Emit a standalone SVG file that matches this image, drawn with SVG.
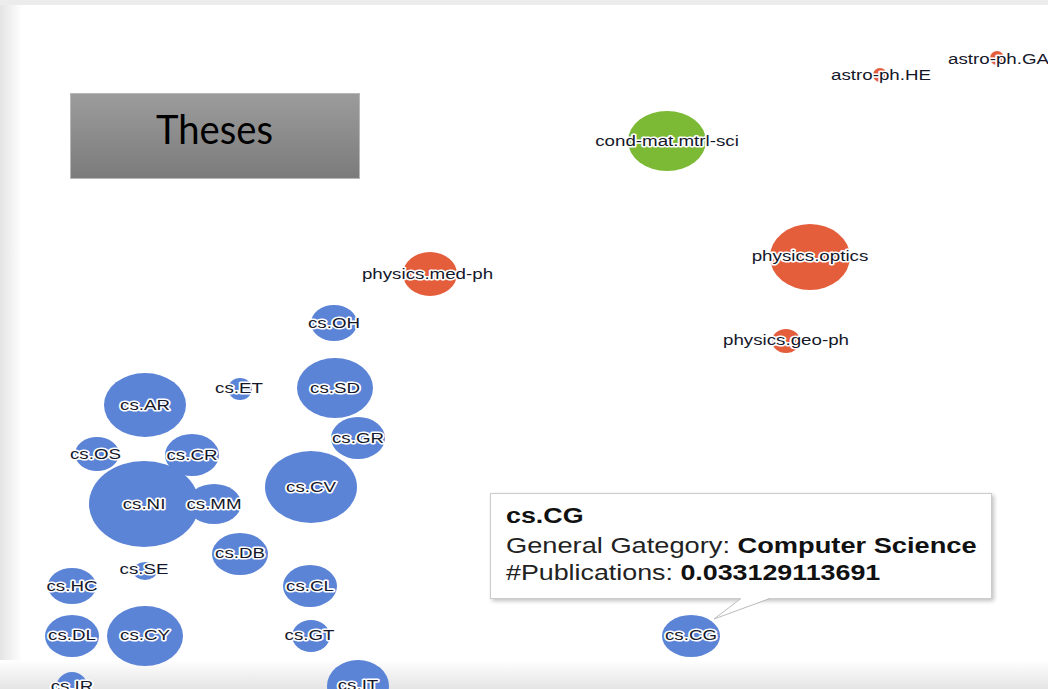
<svg xmlns="http://www.w3.org/2000/svg" width="1048" height="689" viewBox="0 0 1048 689">
  <defs>
    <linearGradient id="gLeft" x1="0" y1="0" x2="1" y2="0">
      <stop offset="0" stop-color="#e4e4e4"/>
      <stop offset="1" stop-color="#ffffff"/>
    </linearGradient>
    <linearGradient id="gBottom" x1="0" y1="0" x2="0" y2="1">
      <stop offset="0" stop-color="#ffffff"/>
      <stop offset="1" stop-color="#e4e4e4"/>
    </linearGradient>
    <linearGradient id="gTitle" x1="0" y1="0" x2="0" y2="1">
      <stop offset="0" stop-color="#9c9c9c"/>
      <stop offset="1" stop-color="#7b7b7b"/>
    </linearGradient>
    <filter id="shadow" x="-5%" y="-10%" width="115%" height="130%">
      <feGaussianBlur in="SourceAlpha" stdDeviation="2"/>
      <feOffset dx="2" dy="2"/>
      <feComponentTransfer><feFuncA type="linear" slope="0.25"/></feComponentTransfer>
      <feMerge><feMergeNode/><feMergeNode in="SourceGraphic"/></feMerge>
    </filter>
    <style>
      .cs { fill: #5b83d6; }
      .ph { fill: #e45e3c; }
      .cm { fill: #7cba36; }
      .lbl { font-family: "Liberation Sans", Arial, sans-serif; font-size: 15px; fill: #15182a;
             stroke: #ffffff; stroke-width: 3px; stroke-linejoin: round; paint-order: stroke; text-anchor: middle; }
      .tt { font-family: "Liberation Sans", Arial, sans-serif; font-size: 22px; fill: #222222; }
      .b { font-weight: bold; fill: #111111; }
    </style>
  </defs>

  <!-- page background and frame shading -->
  <rect x="0" y="0" width="1048" height="689" fill="#ffffff"/>
  <rect x="0" y="0" width="22" height="689" fill="url(#gLeft)"/>
  <rect x="0" y="0" width="1048" height="5" fill="#ececec"/>
  <rect x="0" y="660" width="1048" height="29" fill="url(#gBottom)"/>

  <!-- title box -->
  <g id="title">
    <rect x="70.5" y="93.5" width="289" height="85" fill="url(#gTitle)" stroke="#b8b8b8" stroke-width="1"/>
    <text x="156" y="144" font-family="Lato, 'Open Sans', sans-serif" font-size="40" fill="#000000" textLength="117" lengthAdjust="spacingAndGlyphs">Theses</text>
  </g>

  <g id="nodes">
    <g id="node-astro-ph-HE" transform="translate(880,75)">
      <ellipse class="ph" rx="7" ry="7"/>
      <text class="lbl" transform="scale(1.25,1)" x="0.8" y="5">astro-ph.HE</text>
    </g>
    <g id="node-astro-ph-GA" transform="translate(997,58)">
      <ellipse class="ph" rx="7" ry="7"/>
      <text class="lbl" transform="scale(1.25,1)" x="1.2" y="6">astro-ph.GA</text>
    </g>
    <g id="node-cond-mat-mtrl-sci" transform="translate(667,141)">
      <ellipse class="cm" rx="39" ry="30"/>
      <text class="lbl" transform="scale(1.25,1)" y="5">cond-mat.mtrl-sci</text>
    </g>
    <g id="node-physics-med-ph" transform="translate(430,274)">
      <ellipse class="ph" rx="27" ry="22"/>
      <text class="lbl" transform="scale(1.25,1)" x="-2" y="5">physics.med-ph</text>
    </g>
    <g id="node-physics-optics" transform="translate(810,257)">
      <ellipse class="ph" rx="40" ry="33"/>
      <text class="lbl" transform="scale(1.25,1)" y="4">physics.optics</text>
    </g>
    <g id="node-physics-geo-ph" transform="translate(786,341)">
      <ellipse class="ph" rx="14" ry="12"/>
      <text class="lbl" transform="scale(1.25,1)" y="4">physics.geo-ph</text>
    </g>

    <g id="node-cs-OH" transform="translate(334,323)">
      <ellipse class="cs" rx="23" ry="18"/>
      <text class="lbl" transform="scale(1.25,1)" y="5">cs.OH</text>
    </g>
    <g id="node-cs-SD" transform="translate(335,388)">
      <ellipse class="cs" rx="38" ry="30"/>
      <text class="lbl" transform="scale(1.25,1)" y="5">cs.SD</text>
    </g>
    <g id="node-cs-ET" transform="translate(240,389)">
      <ellipse class="cs" rx="12" ry="11"/>
      <text class="lbl" transform="scale(1.25,1)" x="-0.8" y="4">cs.ET</text>
    </g>
    <g id="node-cs-AR" transform="translate(145,405)">
      <ellipse class="cs" rx="41" ry="32"/>
      <text class="lbl" transform="scale(1.25,1)" y="5">cs.AR</text>
    </g>
    <g id="node-cs-GR" transform="translate(358,438)">
      <ellipse class="cs" rx="27" ry="21"/>
      <text class="lbl" transform="scale(1.25,1)" y="5">cs.GR</text>
    </g>
    <g id="node-cs-OS" transform="translate(97,454)">
      <ellipse class="cs" rx="22" ry="17"/>
      <text class="lbl" transform="scale(1.25,1)" x="-1.2" y="5">cs.OS</text>
    </g>
    <g id="node-cs-CR" transform="translate(192,455)">
      <ellipse class="cs" rx="27" ry="21"/>
      <text class="lbl" transform="scale(1.25,1)" y="5">cs.CR</text>
    </g>
    <g id="node-cs-CV" transform="translate(311,487)">
      <ellipse class="cs" rx="46" ry="36"/>
      <text class="lbl" transform="scale(1.25,1)" y="5">cs.CV</text>
    </g>
    <g id="node-cs-NI" transform="translate(144,504)">
      <ellipse class="cs" rx="55" ry="43"/>
      <text class="lbl" transform="scale(1.25,1)" y="5">cs.NI</text>
    </g>
    <g id="node-cs-MM" transform="translate(214,504)">
      <ellipse class="cs" rx="27" ry="20"/>
      <text class="lbl" transform="scale(1.25,1)" y="5">cs.MM</text>
    </g>
    <g id="node-cs-DB" transform="translate(240,554)">
      <ellipse class="cs" rx="28" ry="21"/>
      <text class="lbl" transform="scale(1.25,1)" y="4">cs.DB</text>
    </g>
    <g id="node-cs-SE" transform="translate(145,571)">
      <ellipse class="cs" rx="12" ry="9"/>
      <text class="lbl" transform="scale(1.25,1)" x="-0.8" y="3">cs.SE</text>
    </g>
    <g id="node-cs-HC" transform="translate(72,586)">
      <ellipse class="cs" rx="24" ry="18"/>
      <text class="lbl" transform="scale(1.25,1)" y="5">cs.HC</text>
    </g>
    <g id="node-cs-CL" transform="translate(310,586)">
      <ellipse class="cs" rx="27" ry="21"/>
      <text class="lbl" transform="scale(1.25,1)" y="5">cs.CL</text>
    </g>
    <g id="node-cs-DL" transform="translate(72,636)">
      <ellipse class="cs" rx="27" ry="21"/>
      <text class="lbl" transform="scale(1.25,1)" y="4">cs.DL</text>
    </g>
    <g id="node-cs-CY" transform="translate(145,636)">
      <ellipse class="cs" rx="38" ry="30"/>
      <text class="lbl" transform="scale(1.25,1)" y="4">cs.CY</text>
    </g>
    <g id="node-cs-GT" transform="translate(311,636)">
      <ellipse class="cs" rx="19" ry="16"/>
      <text class="lbl" transform="scale(1.25,1)" x="-1.2" y="4">cs.GT</text>
    </g>
    <g id="node-cs-IR" transform="translate(72,688)">
      <ellipse class="cs" rx="16" ry="16"/>
      <text class="lbl" transform="scale(1.25,1)" y="3">cs.IR</text>
    </g>
    <g id="node-cs-IT" transform="translate(358,686)">
      <ellipse class="cs" rx="31" ry="26"/>
      <text class="lbl" transform="scale(1.25,1)" y="4">cs.IT</text>
    </g>
    <g id="node-cs-CG" transform="translate(691,636)">
      <ellipse class="cs" rx="29" ry="21"/>
      <text class="lbl" transform="scale(1.25,1)" y="4">cs.CG</text>
    </g>
  </g>

  <!-- tooltip for cs.CG -->
  <g id="tooltip">
    <rect x="490.5" y="493.5" width="501" height="105" fill="#ffffff" stroke="#cccccc" stroke-width="1" filter="url(#shadow)"/>
    <polygon points="741,598 714,619 770,598" fill="#ffffff"/>
    <polyline points="741,598.5 714,619 770,598.5" fill="none" stroke="#bbbbbb" stroke-width="1"/>
    <text class="tt b" transform="translate(506,523) scale(1.22,1)">cs.CG</text>
    <text class="tt" transform="translate(506,553) scale(1.238,1)">General Gategory: <tspan class="b">Computer Science</tspan></text>
    <text class="tt" transform="translate(506,580) scale(1.22,1)">#Publications: <tspan class="b">0.033129113691</tspan></text>
  </g>
</svg>
